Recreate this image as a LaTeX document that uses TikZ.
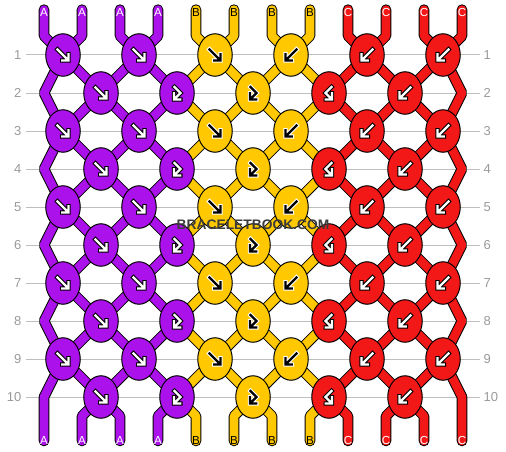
\documentclass[tikz,border=0pt]{standalone}
\usepackage{fontspec}
\setmainfont{Liberation Sans}
\usetikzlibrary{shapes.geometric}
\definecolor{colA}{HTML}{AB12EB}
\definecolor{colB}{HTML}{FFC800}
\definecolor{colC}{HTML}{F21818}
\definecolor{gridgray}{HTML}{BEBEBE}
\definecolor{numgray}{HTML}{9A9A9A}
\definecolor{wmgray}{HTML}{3C3C3C}
\pgfdeclarelayer{gridlayer}
\pgfdeclarelayer{strlayer}
\pgfsetlayers{gridlayer,strlayer,main}
\tikzset{
  knot/.style={ellipse, draw=black, line width=1pt, minimum width=34.5pt, minimum height=42.5pt, inner sep=0pt},
  strout/.style={line width=10.6pt, draw=black, line join=bevel, line cap=round},
  strin/.style={line width=8.6pt, line join=bevel, line cap=round},
  gridline/.style={draw=gridgray, line width=1pt},
  rownum/.style={text=numgray, inner sep=0pt, font=\fontsize{13}{13}\selectfont},
  strlabel/.style={inner sep=0pt, font=\fontsize{11.6}{12}\selectfont},
  wmtext/.style={inner sep=0pt, font=\bfseries\fontsize{13.8}{14}\selectfont},
  arrout/.style={line width=4.4pt, line cap=rect, line join=miter},
  arrin/.style={line width=2.2pt, line cap=rect, line join=miter},
  pics/arrF/.style 2 args={code={
    \draw[arrout,#2] (-5.5,-5.5) -- (4.2,4.2) (-0.8,5.5) -- (5.5,5.5) -- (5.5,-0.8);
    \draw[arrin,#1] (-5.5,-5.5) -- (4.2,4.2) (-0.8,5.5) -- (5.5,5.5) -- (5.5,-0.8);
  }},
  pics/arrB/.style 2 args={code={
    \draw[arrout,#2] (5.5,-5.5) -- (-4.2,4.2) (0.8,5.5) -- (-5.5,5.5) -- (-5.5,-0.8);
    \draw[arrin,#1] (5.5,-5.5) -- (-4.2,4.2) (0.8,5.5) -- (-5.5,5.5) -- (-5.5,-0.8);
  }},
  pics/arrFB/.style 2 args={code={
    \draw[arrout,#2] (-2.5,-6) -- (3.5,0) -- (-1.8,5.3) (-3,0.2) -- (-3,6.5) -- (3.3,6.5);
    \draw[arrin,#1] (-2.5,-6) -- (3.5,0) -- (-1.8,5.3) (-3,0.2) -- (-3,6.5) -- (3.3,6.5);
  }},
  pics/arrBF/.style 2 args={code={
    \draw[arrout,#2] (2.5,-6) -- (-3.5,0) -- (1.8,5.3) (3,0.2) -- (3,6.5) -- (-3.3,6.5);
    \draw[arrin,#1] (2.5,-6) -- (-3.5,0) -- (1.8,5.3) (3,0.2) -- (3,6.5) -- (-3.3,6.5);
  }}
}
\begin{document}
\begin{tikzpicture}[x=1pt,y=-1pt]
\useasboundingbox (0,0) rectangle (506,452);
% grid lines and row numbers
\foreach \r in {1,...,10}{
  \pgfmathsetmacro\yy{55+38*(\r-1)}
  \coordinate (gl\r) at (26,\yy);
  \coordinate (gr\r) at (480,\yy);
  \begin{pgfonlayer}{gridlayer}
    \draw[gridline] (gl\r) -- (gr\r);
  \end{pgfonlayer}
  \node[rownum,anchor=east] (nl\r) at (21.5,\yy) {\r};
  \node[rownum,anchor=west] (nr\r) at (483.5,\yy) {\r};
}
% knots
\foreach \r in {1,3,5,7,9}{
  \pgfmathsetmacro\yy{55+38*(\r-1)}
  \foreach \k/\c in {0/colA,1/colA,2/colB,3/colB,4/colC,5/colC}{
    \node[knot,fill=\c] (k\r-\k) at ({63+76*\k},\yy) {};
  }
}
\foreach \r in {2,4,6,8,10}{
  \pgfmathsetmacro\yy{55+38*(\r-1)}
  \foreach \k/\c in {0/colA,1/colA,2/colB,3/colC,4/colC}{
    \node[knot,fill=\c] (k\r-\k) at ({101+76*\k},\yy) {};
  }
}
% string way points
\foreach \i in {0,...,11}{
  \pgfmathtruncatemacro\ko{floor(\i/2)}
  \pgfmathtruncatemacro\ke{floor((\i-1)/2)}
  \pgfmathsetmacro\xs{44+38*\i}
  \coordinate (t\i) at (\xs,9.6);
  \coordinate (tb\i) at (\xs,36);
  \coordinate (bb\i) at (\xs,416);
  \coordinate (b\i) at (\xs,441);
  \foreach \r in {1,3,5,7,9}{\coordinate (s\i-\r) at (k\r-\ko.center);}
  \foreach \r in {2,4,6,8,10}{
    \pgfmathsetmacro\yy{55+38*(\r-1)}
    \ifnum\i=0 \coordinate (s\i-\r) at (\xs,\yy);
    \else\ifnum\i=11 \coordinate (s\i-\r) at (\xs,\yy);
    \else \coordinate (s\i-\r) at (k\r-\ke.center);
    \fi\fi
  }
}
% strings
\begin{pgfonlayer}{strlayer}
\foreach \i in {0,...,11}{
  \draw[strout] (t\i) -- (tb\i) \foreach \r in {1,...,10}{ -- (s\i-\r)} -- (bb\i) -- (b\i);
}
\foreach \i/\c in {0/colA,1/colA,2/colA,3/colA,4/colB,5/colB,6/colB,7/colB,8/colC,9/colC,10/colC,11/colC}{
  \draw[strin,draw=\c] (t\i) -- (tb\i) \foreach \r in {1,...,10}{ -- (s\i-\r)} -- (bb\i) -- (b\i);
}
\end{pgfonlayer}
% arrows
\foreach \r in {1,3,5,7,9}{
  \pic at (k\r-0) {arrF={white}{black}};
  \pic at (k\r-1) {arrF={white}{black}};
  \pic at (k\r-2) {arrF={black}{white}};
  \pic at (k\r-3) {arrB={black}{white}};
  \pic at (k\r-4) {arrB={white}{black}};
  \pic at (k\r-5) {arrB={white}{black}};
}
\foreach \r in {2,4,6,8,10}{
  \pic at (k\r-0) {arrF={white}{black}};
  \pic at (k\r-1) {arrFB={white}{black}};
  \pic at (k\r-2) {arrFB={black}{white}};
  \pic at (k\r-3) {arrBF={white}{black}};
  \pic at (k\r-4) {arrB={white}{black}};
}
% string labels
\foreach \i/\l/\tc in {0/A/white,1/A/white,2/A/white,3/A/white,4/B/black,5/B/black,6/B/black,7/B/black,8/C/white,9/C/white,10/C/white,11/C/white}{
  \node[strlabel,text=\tc] (lt\i) at ({44+38*\i},12.5) {\l};
  \node[strlabel,text=\tc] (lb\i) at ({44+38*\i},440.5) {\l};
}
% watermark
\node[wmtext,text=wmgray] (wm) at (253,225) {BRACELETBOOK.COM};
\end{tikzpicture}
\end{document}
